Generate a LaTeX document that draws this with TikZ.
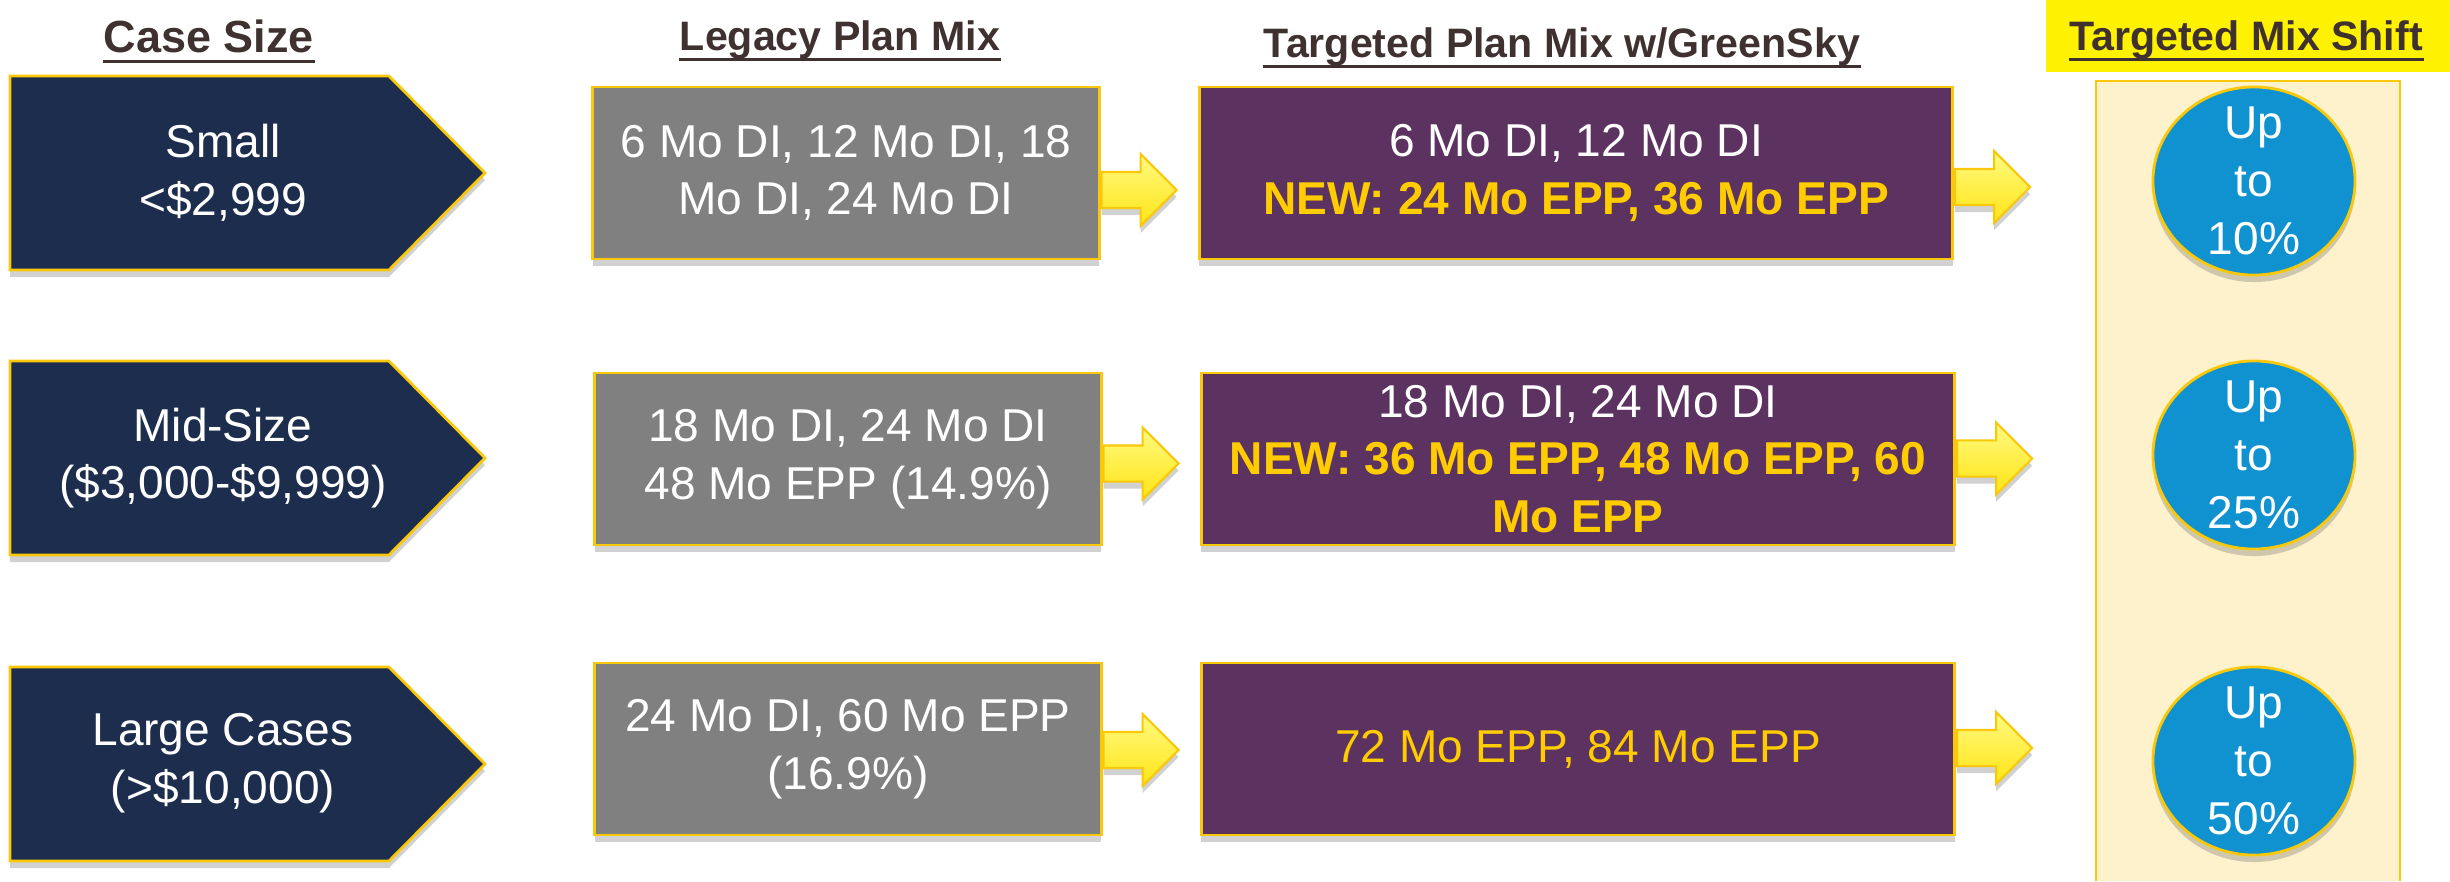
\documentclass[tikz,border=0pt]{standalone}
\usepackage{fontspec}
\setmainfont{Liberation Sans}
\usetikzlibrary{shapes.arrows,shapes.geometric,shadows}

\definecolor{navy}{RGB}{29,45,77}
\definecolor{plangray}{RGB}{128,128,128}
\definecolor{plum}{RGB}{92,50,96}
\definecolor{gold}{RGB}{250,200,10}
\definecolor{newgold}{RGB}{255,204,0}
\definecolor{shiftblue}{RGB}{16,146,208}
\definecolor{cream}{RGB}{253,242,204}
\definecolor{headbrown}{RGB}{64,49,49}
\definecolor{arrowlight}{RGB}{255,250,130}
\definecolor{arrowdark}{RGB}{255,228,20}

\newcommand{\newmix}[1]{{\color{newgold}\bfseries #1}}

\begin{document}
\begin{tikzpicture}[x=0.01cm,y=-0.01cm,
	heading/.style={font=\bfseries\fontsize{11.7}{14}\selectfont, text=headbrown, inner sep=0pt, anchor=base},
	uline/.style={headbrown, line width=0.85pt},
	body/.style={font=\fontsize{13.1}{16.4}\selectfont, text=white, align=center, inner sep=0pt},
	shadowed/.style={drop shadow={shadow xshift=0pt, shadow yshift=-0.07cm, opacity=0.3, fill=black!60}},
	casearrow/.style={fill=navy, draw=gold, line width=0.8pt, shadowed},
	legacybox/.style={rectangle, fill=plangray, draw=gold, line width=0.8pt, minimum width=5.06cm, minimum height=1.72cm, shadowed, body},
	targetbox/.style={legacybox, fill=plum, minimum width=7.53cm},
	yarrow/.style={single arrow, draw=gold, line width=0.6pt, top color=arrowlight, bottom color=arrowdark, minimum height=0.75cm, minimum width=0.70cm, inner xsep=0pt, inner ysep=0.17cm, single arrow head extend=0.18cm, shadowed},
	shiftoval/.style={ellipse, fill=shiftblue, draw=gold, line width=0.8pt, minimum width=2.02cm, minimum height=1.88cm, inner sep=0pt, shadowed}]
	\useasboundingbox (0,0) rectangle (2450,881);
	% Headings %
	\fill [yellow] (2046,0) rectangle (2450,72);
	\node [heading, font=\bfseries\fontsize{12.8}{15}\selectfont] (hcase) at (209,52) {Case Size};
	\node [heading] (hlegacy) at (840,50) {Legacy Plan Mix};
	\node [heading] (htarget) at (1562,57) {Targeted Plan Mix w/GreenSky};
	\node [heading] (hshift) at (2246,50) {Targeted Mix Shift};
	\foreach \h in {hcase, hlegacy, htarget, hshift}
		{\draw [uline] ([yshift=-0.09cm]\h.base west) -- ([yshift=-0.09cm]\h.base east);}
	% Shift Panel %
	\fill [cream] (2096,81) rectangle (2400,881);
	\draw [gold, line width=0.8pt] (2096,881) |- (2400,81) -- (2400,881);
	% Case Size %
	\foreach \y in {76, 361, 667}
		{\draw [casearrow] (10,\y) -- (389,\y) -- (485,\y+97) -- (389,\y+194) -- (10,\y+194) -- cycle;}
	\node [body] (small) at (223,173) {Small\\<\$2,999};
	\node [body] (midsize) at (223,458) {Mid-Size\\(\$3,000-\$9,999)};
	\node [body] (large) at (223,763) {Large Cases\\(>\$10,000)};
	% Legacy Plan Mix %
	\node [legacybox] (legacy1) at (846,173) {6 Mo DI, 12 Mo DI, 18\\Mo DI, 24 Mo DI};
	\node [legacybox] (legacy2) at (848,459) {18 Mo DI, 24 Mo DI\\48 Mo EPP (14.9\%)};
	\node [legacybox] (legacy3) at (848,749) {24 Mo DI, 60 Mo EPP\\(16.9\%)};
	% Targeted Plan Mix %
	\node [targetbox] (target1) at (1576,173) {6 Mo DI, 12 Mo DI\\\newmix{NEW: 24 Mo EPP, 36 Mo EPP}};
	\node [targetbox] (target2) at (1578,459) {18 Mo DI, 24 Mo DI\\\newmix{NEW: 36 Mo EPP, 48 Mo EPP, 60}\\\newmix{Mo EPP}};
	\node [targetbox] (target3) at (1578,749) {{\color{newgold}72 Mo EPP, 84 Mo EPP}};
	% Arrows %
	\foreach \r/\da/\db in {1/-0.17/-0.14, 2/-0.045/0.005, 3/-0.01/0.01}
		{\node [yarrow, anchor=tail] (arrowa\r) at ([yshift=\da cm]legacy\r.east) {};
		\node [yarrow, anchor=tail] (arrowb\r) at ([yshift=\db cm]target\r.east) {};}
	% Mix Shift %
	\foreach \y/\pct [count=\i] in {181/10, 455/25, 761/50}
		{\node [shiftoval] (shift\i) at (2254,\y) {};
		\node [body] (shifttext\i) at (shift\i) {Up\\to\\\pct\%};}
\end{tikzpicture}
\end{document}
